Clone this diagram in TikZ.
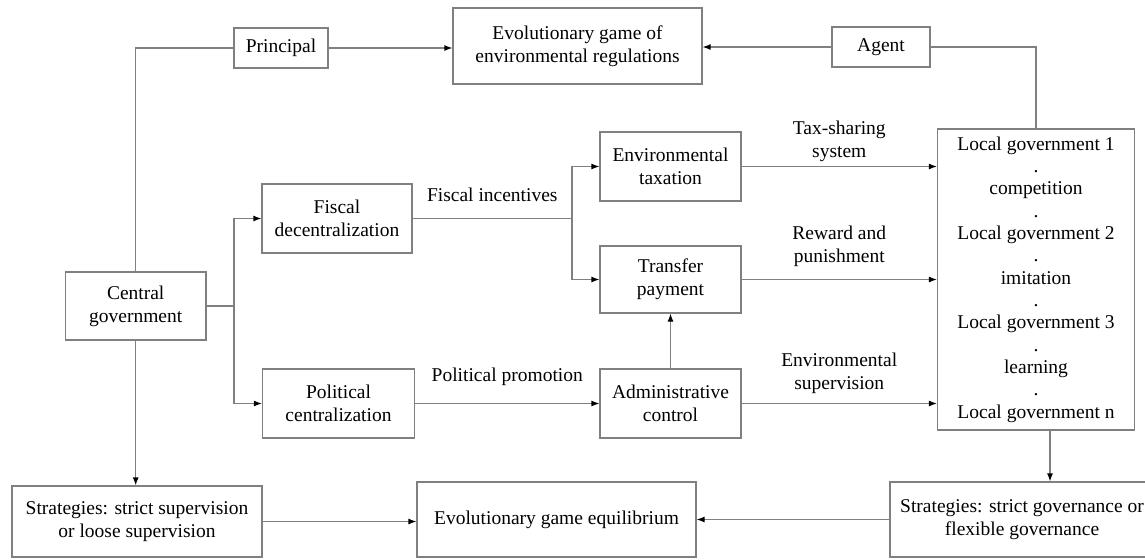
\documentclass[tikz,border=0pt]{standalone}
\usepackage{fontspec}
\setmainfont{Liberation Serif}
\usetikzlibrary{arrows.meta}
\definecolor{linegray}{RGB}{128,128,128}
\tikzset{
	box/.style={draw=linegray, line width=0.6pt, align=center, inner sep=0pt},
	conn/.style={draw=linegray, line width=0.6pt},
	lbl/.style={align=center, inner sep=0pt},
}

\begin{document}
\begin{tikzpicture}[x=0.5pt,y=-0.5pt,font=\fontsize{9.75}{11.5}\selectfont,>={Latex[length=4pt,width=3pt,color=black]}]
	\useasboundingbox (0,0) rectangle (1145,559);
	% boxes
	\node[box,minimum width=47pt,minimum height=20pt] (principal) at (281,48) {Principal};
	\node[box,minimum width=124.5pt,minimum height=38pt] (evolgame) at (577.5,46) {Evolutionary game of\\environmental regulations};
	\node[box,minimum width=49pt,minimum height=20pt] (agent) at (881,47) {Agent};
	\node[box,minimum width=70.3pt,minimum height=34pt] (central) at (135.7,306) {Central\\government};
	\node[box,minimum width=75pt,minimum height=34.5pt] (fiscal) at (337,218.5) {Fiscal\\decentralization};
	\node[box,minimum width=76pt,minimum height=34.5pt] (political) at (338.5,403.5) {Political\\centralization};
	\node[box,minimum width=70.5pt,minimum height=34.5pt] (taxation) at (670.5,166.5) {Environmental\\taxation};
	\node[box,minimum width=70.5pt,minimum height=33.5pt] (transfer) at (670.5,279.5) {Transfer\\payment};
	\node[box,minimum width=70.5pt,minimum height=34.5pt] (admin) at (670.5,403.5) {Administrative\\control};
	\node[box,minimum width=98.5pt,minimum height=150.5pt,font=\fontsize{9.75}{11.17}\selectfont] (localgov) at (1036,279.5)
		{Local government 1\\.\\competition\\.\\Local government 2\\.\\imitation\\.\\Local government 3\\.\\learning\\.\\Local government n};
	\node[box,minimum width=125pt,minimum height=35.5pt] (stratleft) at (137,521.5) {Strategies: strict supervision\\or loose supervision};
	\node[box,minimum width=139.5pt,minimum height=37.5pt] (equil) at (556.5,519.5) {Evolutionary game equilibrium};
	\node[box,minimum width=132pt,minimum height=37.5pt] (stratright) at (1022,519.5) {Strategies: strict governance or\\flexible governance};
	% connectors
	\draw[conn] (central.north) |- (principal.west);
	\draw[conn,->] (principal.east) -- (principal.east -| evolgame.west);
	\draw[conn,->] (agent.west) -- (agent.west -| evolgame.east);
	\draw[conn] (agent.east) -| (localgov.north);
	\coordinate (csplit) at (234,306);
	\draw[conn] (central.east) -- (csplit);
	\draw[conn,->] (csplit) |- (fiscal.west);
	\draw[conn,->] (csplit) |- (political.west);
	\coordinate (fsplit) at (572,218.5);
	\draw[conn] (fiscal.east) -- node[lbl,above=8pt] {Fiscal incentives} (fsplit);
	\draw[conn,->] (fsplit) |- (taxation.west);
	\draw[conn,->] (fsplit) |- (transfer.west);
	\draw[conn,->] (political.east) -- node[lbl,above=8.5pt] {Political promotion} (admin.west);
	\draw[conn,->] (admin.north) -- (transfer.south);
	\draw[conn,->] (taxation.east) -- node[lbl,above=2pt] {Tax-sharing\\system} (taxation.east -| localgov.west);
	\draw[conn,->] (transfer.east) -- node[lbl,above=6pt] {Reward and\\punishment} (transfer.east -| localgov.west);
	\draw[conn,->] (admin.east) -- node[lbl,above=4.5pt] {Environmental\\supervision} (admin.east -| localgov.west);
	\draw[conn,->] (central.south) -- (central.south |- stratleft.north);
	\draw[conn,->] (stratleft.east) -- (stratleft.east -| equil.west);
	\draw[conn,->] ([xshift=7pt]localgov.south) -- ([xshift=7pt]localgov.south |- stratright.north);
	\draw[conn,->] (stratright.west) -- (equil.east);
\end{tikzpicture}
\end{document}
